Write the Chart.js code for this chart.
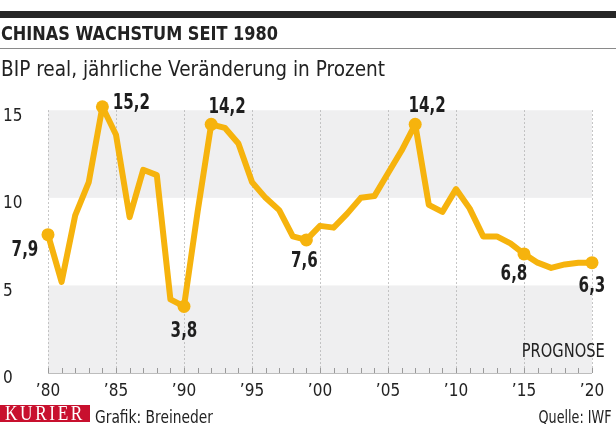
<!DOCTYPE html>
<html>
<head>
<meta charset="utf-8">
<script src="https://cdn.jsdelivr.net/npm/chart.js@4"></script>
<style>
  html, body { margin: 0; padding: 0; background: #fff; }
  body { width: 616px; height: 424px; position: relative; overflow: hidden;
         font-family: "DejaVu Sans Condensed", "Roboto", sans-serif; color: #222; }
  .abs { position: absolute; line-height: 1; white-space: nowrap; transform-origin: 0 0; }
  .right { transform-origin: 100% 0; }
  #bar { left: 0; top: 11px; width: 616px; height: 7px; background: #262626; }
  #title { left: 1px; top: 23.5px; font-size: 19px; font-weight: bold; }
  #rule { left: 0; top: 48px; width: 616px; height: 1px; background: #8a8a8a; }
  #sub { left: 1px; top: 58px; font-size: 22px; }
  #chart { position: absolute; left: 0; top: 0; }
  #prog { right: 11px; top: 341px; font-size: 19px; }
  #logo { left: 0; top: 405px; width: 90px; height: 17px; background: #c8102e; }
  #logotext { left: 5px; top: 404px; color: #fff; font-family: "Liberation Serif", serif;
              font-size: 20px; line-height: 19px; letter-spacing: 3px; }
  #credit { left: 95px; top: 409px; font-size: 17px; }
  #source { right: 5px; top: 409px; font-size: 17px; }
</style>
</head>
<body>
<canvas id="chart" width="616" height="424"></canvas>
<div class="abs" id="bar"></div>
<div class="abs fit" id="title" data-w="277">CHINAS WACHSTUM SEIT 1980</div>
<div class="abs" id="rule"></div>
<div class="abs fit" id="sub" data-w="384">BIP real, jährliche Veränderung in Prozent</div>
<div class="abs fit right" id="prog" data-w="83">PROGNOSE</div>
<div class="abs" id="logo"></div>
<div class="abs fit" id="logotext" data-w="80">KURIER</div>
<div class="abs fit" id="credit" data-w="118">Grafik: Breineder</div>
<div class="abs fit right" id="source" data-w="73">Quelle: IWF</div>
<script>
// years 1980-2020, real GDP growth in percent (IMF, from 2015 forecast)
var years = [1980, 1981, 1982, 1983, 1984, 1985, 1986, 1987, 1988, 1989,
             1990, 1991, 1992, 1993, 1994, 1995, 1996, 1997, 1998, 1999,
             2000, 2001, 2002, 2003, 2004, 2005, 2006, 2007, 2008, 2009,
             2010, 2011, 2012, 2013, 2014, 2015, 2016, 2017, 2018, 2019, 2020];
var growth = [7.9, 5.2, 9.0, 10.9, 15.2, 13.6, 8.9, 11.6, 11.3, 4.2,
              3.8, 9.2, 14.2, 14.0, 13.1, 10.9, 10.0, 9.3, 7.8, 7.6,
              8.4, 8.3, 9.1, 10.0, 10.1, 11.4, 12.7, 14.2, 9.6, 9.2,
              10.5, 9.4, 7.8, 7.8, 7.4, 6.8, 6.3, 6.0, 6.2, 6.3, 6.3];
var yTicks = [0, 5, 10, 15];
var labelledYears = [1980, 1984, 1990, 1992, 1999, 2007, 2015, 2020];

var yellow = '#f6b30d';
var font = '"DejaVu Sans Condensed", "Roboto", sans-serif';

// squeeze the html texts to the widths of the narrow newspaper font
document.querySelectorAll('.fit').forEach(function (el) {
    var w = el.getBoundingClientRect().width;
    el.style.transform = 'scaleX(' + (el.dataset.w / w) + ')';
});

// where each value label sits relative to its point
var labelOffsets = {
    1980: [-23, 16], 1984: [29, -3], 1990: [0, 25], 1992: [16, -17],
    1999: [-2, 22], 2007: [12, -18], 2015: [-10, 21], 2020: [0, 24]
};

var points = years.map(function (y, i) { return {x: y, y: growth[i]}; });

var backdrop = {
    id: 'backdrop',
    beforeDatasetsDraw: function (chart) {
        var c = chart.ctx, xs = chart.scales.x, ys = chart.scales.y;
        var l = xs.getPixelForValue(years[0]), r = xs.getPixelForValue(years[years.length - 1]);
        var y0 = ys.getPixelForValue(0), y5 = ys.getPixelForValue(5);
        var y10 = ys.getPixelForValue(10), y15 = ys.getPixelForValue(15);
        c.save();
        c.fillStyle = '#efeff0';
        c.fillRect(l, y15, r - l, y10 - y15);
        c.fillRect(l, y5, r - l, y0 - y5);
        // dotted lines every 5 years
        c.strokeStyle = '#b4b4b4';
        c.lineWidth = 1;
        c.setLineDash([1.5, 2.5]);
        years.forEach(function (yr) {
            if (yr % 5) return;
            var x = Math.round(xs.getPixelForValue(yr)) + 0.5;
            c.beginPath(); c.moveTo(x, y15); c.lineTo(x, y0); c.stroke();
        });
        c.setLineDash([]);
        // baseline with small year ticks
        c.strokeStyle = '#bdbdbd';
        c.beginPath(); c.moveTo(l, Math.round(y0) + 0.5); c.lineTo(r, Math.round(y0) + 0.5); c.stroke();
        c.strokeStyle = '#9a9a9a';
        years.forEach(function (yr) {
            var x = Math.round(xs.getPixelForValue(yr)) + 0.5;
            c.beginPath(); c.moveTo(x, y0 - 5); c.lineTo(x, y0); c.stroke();
        });
        c.restore();
    },
    afterDatasetsDraw: function (chart) {
        var c = chart.ctx, meta = chart.getDatasetMeta(0);
        c.save();
        c.fillStyle = '#1e1e1e';
        c.font = 'bold 21px ' + font;
        c.textAlign = 'center';
        c.textBaseline = 'middle';
        labelledYears.forEach(function (yr) {
            var i = years.indexOf(yr), p = meta.data[i], o = labelOffsets[yr];
            var txt = growth[i].toFixed(1).replace('.', ',');
            c.fillText(txt, p.x + o[0], p.y + o[1], c.measureText(txt).width * 0.8);
        });
        c.restore();
    }
};

var ctx = document.getElementById('chart').getContext('2d');
var myChart = new Chart(ctx, {
    type: 'line',
    data: {
        datasets: [{
            data: points,
            borderColor: yellow,
            backgroundColor: yellow,
            borderWidth: 6,
            borderJoinStyle: 'round',
            borderCapStyle: 'round',
            tension: 0,
            clip: false,
            pointRadius: function (ctx) {
                return labelledYears.indexOf(years[ctx.dataIndex]) >= 0 ? 6.5 : 0;
            },
            pointBorderWidth: 0,
            pointBackgroundColor: yellow
        }]
    },
    options: {
        responsive: false,
        animation: false,
        devicePixelRatio: 1,
        layout: { padding: { left: 3, right: 24, top: 84, bottom: 0 } },
        plugins: { legend: { display: false }, tooltip: { enabled: false } },
        scales: {
            x: {
                type: 'linear',
                min: 1980,
                max: 2020,
                grid: { display: false, drawTicks: false },
                border: { display: false },
                ticks: {
                    stepSize: 5,
                    padding: 8,
                    color: '#222',
                    font: { family: font, size: 17 },
                    maxRotation: 0,
                    callback: function (v) { return '\u2019' + String(v).slice(2); }
                },
                afterFit: function (s) { s.height = 51; }
            },
            y: {
                min: 0,
                max: 16.5,
                grid: { display: false, drawTicks: false },
                border: { display: false },
                afterBuildTicks: function (s) {
                    s.ticks = yTicks.map(function (v) { return {value: v}; });
                },
                ticks: {
                    crossAlign: 'far',
                    labelOffset: 6,
                    color: '#222',
                    font: { family: font, size: 17 }
                },
                afterFit: function (s) { s.width = 45; }
            }
        }
    },
    plugins: [backdrop]
});
</script>
</body>
</html>
